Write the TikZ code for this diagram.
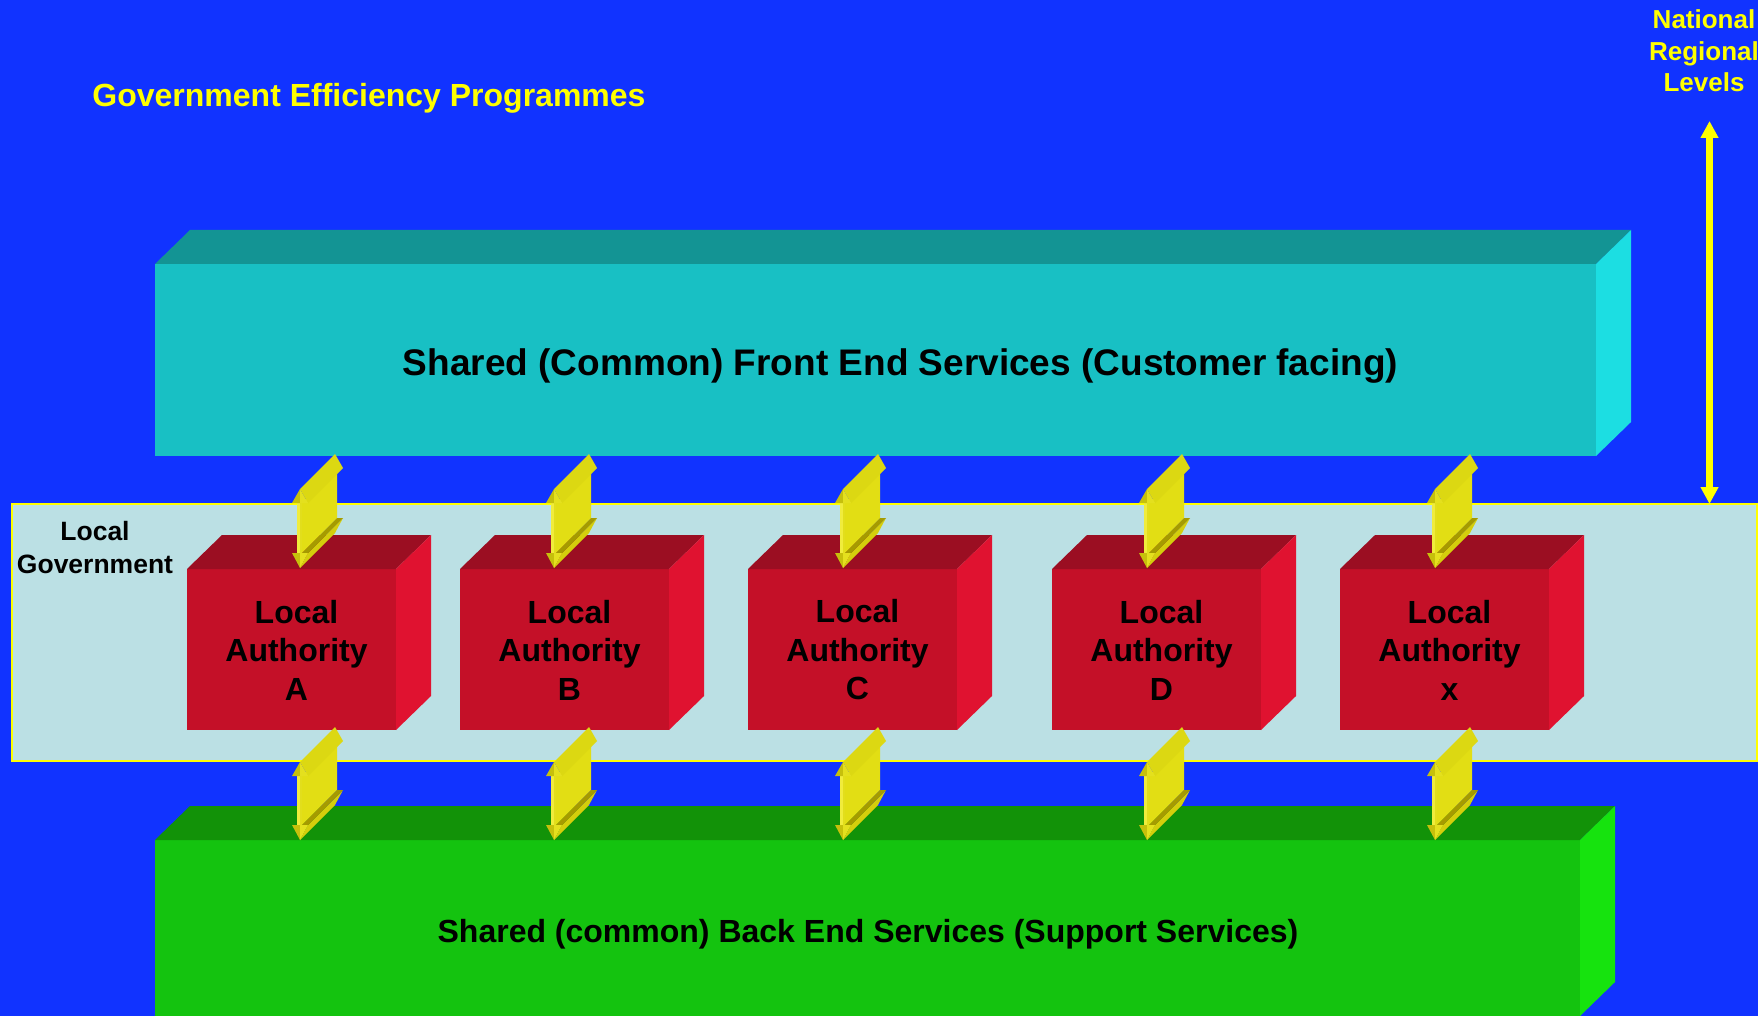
\documentclass[tikz,border=0pt]{standalone}
\usepackage{fontspec}
\setmainfont{Liberation Sans}
\usetikzlibrary{arrows.meta}
\definecolor{bgblue}{RGB}{17,51,255}
\definecolor{cyfront}{RGB}{24,192,196}
\definecolor{cytop}{RGB}{19,148,148}
\definecolor{cyside}{RGB}{28,222,226}
\definecolor{rdfront}{RGB}{196,16,40}
\definecolor{rdtop}{RGB}{155,14,34}
\definecolor{rdside}{RGB}{224,18,48}
\definecolor{grfront}{RGB}{20,195,15}
\definecolor{grtop}{RGB}{18,146,8}
\definecolor{grside}{RGB}{22,227,14}
\definecolor{panelfill}{RGB}{187,224,228}
\definecolor{yelbroad}{RGB}{226,222,20}
\definecolor{yelroof}{RGB}{220,216,18}
\definecolor{yelshelf}{RGB}{165,155,0}
\definecolor{yelunder}{RGB}{212,206,12}
\definecolor{yelfrontA}{RGB}{240,236,60}
\definecolor{yelfrontB}{RGB}{226,222,28}
\definecolor{yelheadL}{RGB}{198,192,12}
\definecolor{yelheadR}{RGB}{228,224,30}
\definecolor{lineyellow}{RGB}{255,255,0}

\newcommand\cubefaces[3]{%
  \fill[#2] (#1.north west) -- ++(35,-34) -- ([shift={(35,-34)}]#1.north east) -- (#1.north east) -- cycle;
  \fill[#3] (#1.north east) -- ++(35,-34) -- ([shift={(35,-34)}]#1.south east) -- (#1.south east) -- cycle;}

\tikzset{pics/dblarrow/.style={code={
  \fill[yelbroad] (2,14) -- (37,-21) -- (37,#1-50) -- (2,#1-15) -- cycle;
  \fill[yelunder] (8,#1-15) -- (43,#1-50) -- (35,#1-35) -- (0,#1) -- cycle;
  \fill[yelroof] (0,0) -- (35,-35) -- (43,-21) -- (8,14) -- cycle;
  \fill[yelshelf] (2,#1-15) -- (8,#1-15) -- (43,#1-50) -- (37,#1-50) -- cycle;
  \fill[yelfrontA] (-3,14) rectangle (0,#1-15);
  \fill[yelfrontB] (0,14) rectangle (2,#1-15);
  \fill[yelheadL] (0,0) -- (-8,14) -- (0,14) -- cycle;
  \fill[yelheadR] (0,0) -- (0,14) -- (8,14) -- cycle;
  \fill[yelheadL] (-8,#1-15) -- (0,#1-15) -- (0,#1) -- cycle;
  \fill[yelheadR] (0,#1-15) -- (8,#1-15) -- (0,#1) -- cycle;
}}}

\begin{document}
\begin{tikzpicture}[x=1pt,y=-1pt,
  face/.style={inner sep=0pt,outer sep=0pt,anchor=north west},
  latext/.style={align=center,inner sep=0pt,text=black,font=\fontsize{32}{38.5}\selectfont\bfseries},
  redbox/.style={face,fill=rdfront,minimum width=209pt,minimum height=161pt}]
\useasboundingbox (0,0) rectangle (1758,1016);
\fill[bgblue] (0,0) rectangle (1758,1016);

% title
\node[anchor=base,inner sep=0pt,text=lineyellow,font=\fontsize{32}{38}\selectfont\bfseries] (title) at (369,107) {Government Efficiency Programmes};
\node[align=center,inner sep=0pt,text=lineyellow,font=\fontsize{26}{31.5}\selectfont\bfseries] (levels) at (1704,51) {National\\Regional\\Levels};

% front end block
\node[face,fill=cyfront,minimum width=1441pt,minimum height=192pt] (fe) at (155,264) {};
\cubefaces{fe}{cytop}{cyside}
\node[anchor=base,inner sep=0pt,text=black,font=\fontsize{37}{44}\selectfont\bfseries] (fetext) at (900.5,375) {Shared (Common) Front End Services (Customer facing)};

% local government panel
\node[face,draw=lineyellow,line width=2.5pt,fill=panelfill,minimum width=1745pt,minimum height=257pt] (panel) at (12,504) {};
\node[align=center,inner sep=0pt,text=black,font=\fontsize{26.5}{32.5}\selectfont\bfseries] (lgtext) at (95,547.5) {Local\\Government};

% levels arrow
\coordinate (levtop) at (1709.5,121);
\draw[lineyellow,line width=6.5pt,{Triangle[length=17pt,width=17pt]}-{Triangle[length=17pt,width=17pt]}] (levtop) -- (levtop |- panel.north);

% back end block
\node[face,fill=grfront,minimum width=1425pt,minimum height=176pt] (be) at (155,840) {};
\cubefaces{be}{grtop}{grside}
\node[anchor=base,inner sep=0pt,text=black,font=\fontsize{32}{38}\selectfont\bfseries] (betext) at (868,942) {Shared (common) Back End Services (Support Services)};

% local authorities
\node[redbox] (laA) at (187,569) {};
\node[redbox] (laB) at (460,569) {};
\node[redbox] (laC) at (748,569) {};
\node[redbox] (laD) at (1052,569) {};
\node[redbox] (laX) at (1340,569) {};
\cubefaces{laA}{rdtop}{rdside}
\cubefaces{laB}{rdtop}{rdside}
\cubefaces{laC}{rdtop}{rdside}
\cubefaces{laD}{rdtop}{rdside}
\cubefaces{laX}{rdtop}{rdside}
\node[latext] (tA) at (296.5,650) {Local\\Authority\\A};
\node[latext] (tB) at (569.5,650) {Local\\Authority\\B};
\node[latext] (tC) at (857.5,650) {Local\\Authority\\C};
\node[latext] (tD) at (1161.5,650) {Local\\Authority\\D};
\node[latext] (tX) at (1449.5,650) {Local\\Authority\\x};

% double arrows
\foreach \cx in {300,554,843,1147,1435} {
  \pic at (\cx,489) {dblarrow=79};
  \pic at (\cx,762) {dblarrow=78};
}
\end{tikzpicture}
\end{document}
